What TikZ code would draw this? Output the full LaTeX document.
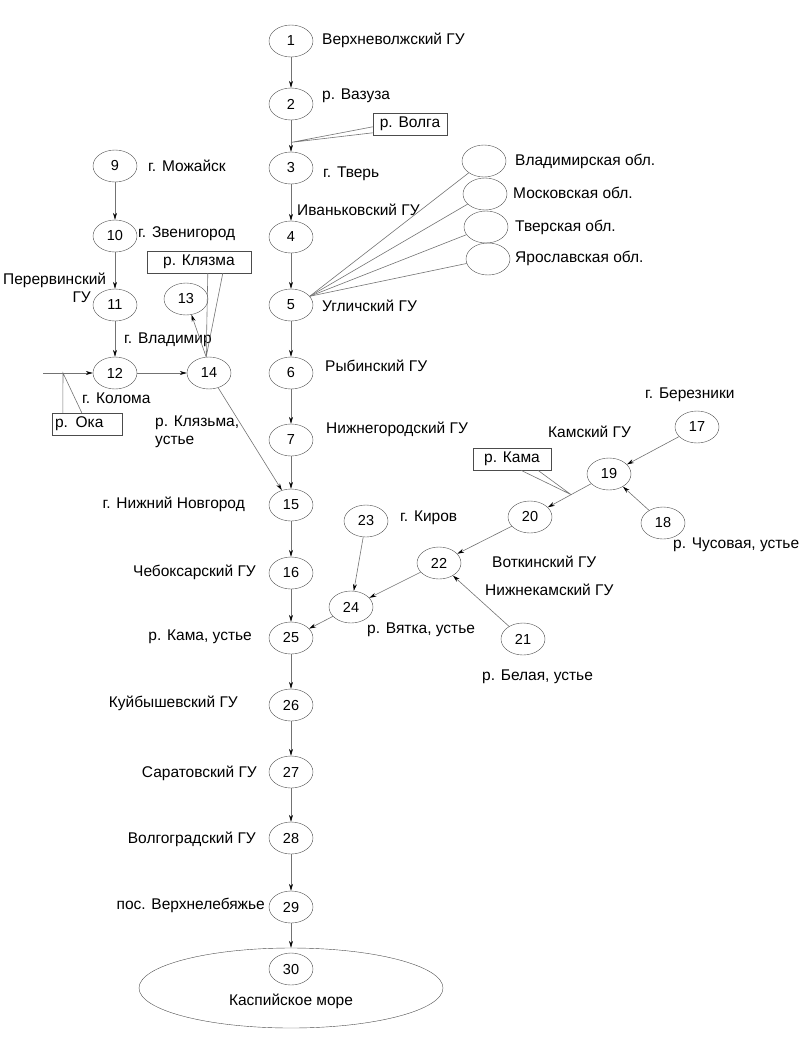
\documentclass[tikz,border=0pt]{standalone}
\usepackage{fontspec}
\setmainfont{Liberation Sans}
\usetikzlibrary{shapes.geometric,arrows.meta,calc}
\begin{document}
\begin{tikzpicture}[x=1pt,y=-1pt,
  nd/.style={ellipse,draw=black!70,minimum width=44pt,minimum height=32pt,inner sep=0pt,font=\fontsize{14.5}{15}\selectfont},
  reg/.style={ellipse,draw=black!70,minimum width=44pt,minimum height=32pt,inner sep=0pt},
  lbl/.style={inner sep=0pt,font=\fontsize{15.5}{18}\selectfont},
  bx/.style={draw=black!70,rectangle,minimum height=22pt,inner sep=0pt,font=\fontsize{15.5}{18}\selectfont},
  ln/.style={draw=black!55,line width=0.6pt},
  arr/.style={ln,-{Stealth[length=7pt,width=4pt,color=black]}}]
\useasboundingbox (0,0) rectangle (807,1041);
% main column
\node[nd] (n1) at (291,41) {1};
\node[nd] (n2) at (291,104) {2};
\node[nd] (n3) at (291,168) {3};
\node[nd] (n4) at (291,237) {4};
\node[nd] (n5) at (291,305) {5};
\node[nd] (n6) at (291,373) {6};
\node[nd] (n7) at (291,440) {7};
\node[nd] (n15) at (291,505) {15};
\node[nd] (n16) at (291,573) {16};
\node[nd] (n25) at (291,638) {25};
\node[nd] (n26) at (291,705) {26};
\node[nd] (n27) at (291,772) {27};
\node[nd] (n28) at (291,838) {28};
\node[nd] (n29) at (291,907) {29};
\node[ellipse,draw=black!70,minimum width=304pt,minimum height=80pt,inner sep=0pt] (sea) at (291,988) {};
\node[nd] (n30) at (291,969) {30};
\node[lbl] (seal) at (291,1001) {Каспийское море};
% left column
\node[nd] (n9) at (115,166) {9};
\node[nd] (n10) at (115,236) {10};
\node[nd] (n11) at (115,305) {11};
\node[nd] (n12) at (115,373) {12};
\node[nd] (n13) at (186,299) {13};
\node[nd] (n14) at (209,373) {14};
% right part
\node[nd] (n17) at (697,427) {17};
\node[nd] (n19) at (609,474) {19};
\node[nd] (n20) at (530,517) {20};
\node[nd] (n18) at (663,523) {18};
\node[nd] (n22) at (439,563) {22};
\node[nd] (n21) at (523,639) {21};
\node[nd] (n23) at (366,521) {23};
\node[nd] (n24) at (351,607) {24};
% region ellipses
\node[reg] (vlad) at (484,161) {};
\node[reg] (mosk) at (485,194) {};
\node[reg] (tver) at (486,227) {};
\node[reg] (yar) at (488,259) {};
% boxes
\node[bx,minimum width=74pt] (volga) at (410,124) {р. Волга};
\node[bx,minimum width=104pt] (klyazma) at (199,262) {р. Клязма};
\node[bx,text width=64pt,inner xsep=3pt,align=left] (oka) at (87,424) {р. Ока};
\node[bx,minimum width=78pt] (kama) at (512,459) {р. Кама};
% labels
\node[lbl,anchor=west] at (322,40) {Верхневолжский ГУ};
\node[lbl,anchor=west] at (322,96) {р. Вазуза};
\node[lbl,anchor=west] at (323,174) {г. Тверь};
\node[lbl,anchor=west] at (297,210) {Иваньковский ГУ};
\node[lbl,anchor=west] at (322,306) {Угличский ГУ};
\node[lbl,anchor=west] at (325,366) {Рыбинский ГУ};
\node[lbl,anchor=west] at (326,429) {Нижнегородский ГУ};
\node[lbl,anchor=west] at (515,161) {Владимирская обл.};
\node[lbl,anchor=west] at (513,193) {Московская обл.};
\node[lbl,anchor=west] at (515,227) {Тверская обл.};
\node[lbl,anchor=west] at (515,258) {Ярославская обл.};
\node[lbl,anchor=west] at (148,166) {г. Можайск};
\node[lbl,anchor=west] at (138,234) {г. Звенигород};
\node[lbl,anchor=west] at (3,280) {Перервинский};
\node[lbl,anchor=east] at (91,297) {ГУ};
\node[lbl,anchor=west] at (124,340) {г. Владимир};
\node[lbl,anchor=west] at (82,398) {г. Колома};
\node[lbl,anchor=west,align=left] at (155,432) {р. Клязьма,\\устье};
\node[lbl,anchor=east] at (245,504) {г. Нижний Новгород};
\node[lbl,anchor=east] at (256,572) {Чебоксарский ГУ};
\node[lbl,anchor=east] at (252,637) {р. Кама, устье};
\node[lbl,anchor=east] at (238,703) {Куйбышевский ГУ};
\node[lbl,anchor=east] at (257,773) {Саратовский ГУ};
\node[lbl,anchor=east] at (256,839) {Волгоградский ГУ};
\node[lbl,anchor=east] at (265,905) {пос. Верхнелебяжье};
\node[lbl,anchor=west] at (400,518) {г. Киров};
\node[lbl,anchor=west] at (367,630) {р. Вятка, устье};
\node[lbl,anchor=west] at (645,395) {г. Березники};
\node[lbl,anchor=west] at (548,432) {Камский ГУ};
\node[lbl,anchor=west] at (673,545) {р. Чусовая, устье};
\node[lbl,anchor=west] at (492,562) {Воткинский ГУ};
\node[lbl,anchor=west] at (485,590) {Нижнекамский ГУ};
\node[lbl,anchor=west] at (482,677) {р. Белая, устье};
% main chain arrows
\draw[arr] (n1) -- (n2);
\draw[arr] (n2) -- (n3);
\draw[arr] (n3) -- (n4);
\draw[arr] (n4) -- (n5);
\draw[arr] (n5) -- (n6);
\draw[arr] (n6) -- (n7);
\draw[arr] (n7) -- (n15);
\draw[arr] (n15) -- (n16);
\draw[arr] (n16) -- (n25);
\draw[arr] (n25) -- (n26);
\draw[arr] (n26) -- (n27);
\draw[arr] (n27) -- (n28);
\draw[arr] (n28) -- (n29);
\draw[arr] (n29) -- (sea);
% left
\coordinate (okastart) at (43,373);
\coordinate (okaapex) at (63,373);
\draw[arr] (okastart) -- (n12);
\draw[arr] (n9) -- (n10);
\draw[arr] (n10) -- (n11);
\draw[arr] (n11) -- (n12);
\draw[arr] (n12) -- (n14);
\draw[arr] (n14.100) -- (n13);
\draw[arr] (n14) -- (n15);
% right
\draw[arr] (n17) -- (n19);
\draw[arr] (n18) -- (n19);
\draw[arr] (n19) -- (n20);
\draw[arr] (n20) -- (n22);
\draw[arr] (n21) -- (n22);
\draw[arr] (n22) -- (n24);
\draw[arr] (n23) -- (n24);
\draw[arr] (n24) -- (n25);
% regions
\coordinate (apex5) at (n5.25);
\draw[ln] (apex5) -- (vlad);
\draw[ln] (apex5) -- (mosk);
\draw[ln] (apex5) -- (tver);
\draw[ln] (apex5) -- (yar);
% callout pointers
\coordinate (volgaapex) at ($(n2)!0.6!(n3)$);
\draw[ln] ($(volga.north west)+(0,14)$) -- (volgaapex) -- ($(volga.north west)+(0,20)$);
\draw[ln] ($(klyazma.south west)+(61,0)$) -- (n14.100) -- ($(klyazma.south west)+(76,0)$);
\draw[ln] ($(oka.north west)+(11,0)$) -- (okaapex) -- ($(oka.north west)+(30,0)$);
\coordinate (kamaapex) at ($(n19)!0.48!(n20)$);
\draw[ln] ($(kama.south west)+(48,0)$) -- (kamaapex) -- ($(kama.south west)+(65,0)$);
\end{tikzpicture}
\end{document}
